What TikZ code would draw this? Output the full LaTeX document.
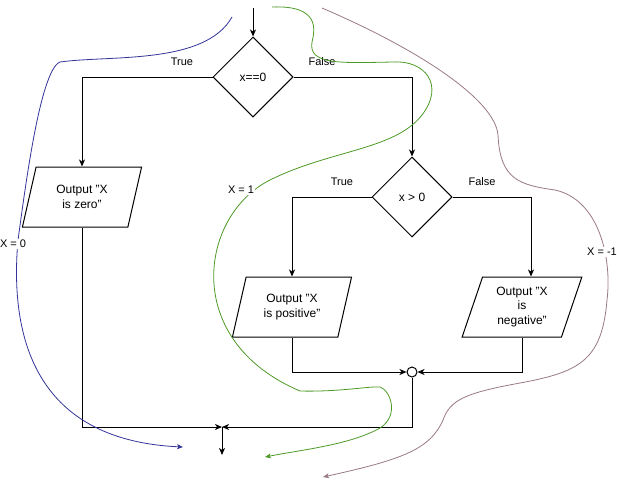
\documentclass[tikz,border=0pt]{standalone}
\usepackage{fontspec}
\setmainfont{Liberation Sans}
\usetikzlibrary{shapes.geometric,arrows.meta}
\definecolor{pathzero}{RGB}{51,51,153}
\definecolor{pathone}{RGB}{77,153,38}
\definecolor{pathneg}{RGB}{153,122,128}

\begin{document}
\begin{tikzpicture}[x=1pt,y=-1pt,line width=1pt,
   every node/.style={font=\fontsize{12}{14.5}\selectfont},
   decision/.style={draw,diamond,aspect=1,minimum width=80pt,minimum height=80pt,inner sep=0pt},
   output/.style={draw,trapezium,trapezium left angle=71.57,trapezium right angle=108.43,
      trapezium stretches,minimum width=120pt,minimum height=60pt,align=center,inner sep=0pt},
   lbl/.style={font=\fontsize{11}{13}\selectfont},
   arr/.style={-{Stealth[length=7pt,width=6pt,inset=2pt]}},
   trace/.style={line width=0.8pt,-{Stealth[length=6pt,width=5pt,inset=1.5pt]}},
   tag/.style={lbl,fill=white,inner sep=1pt}]
   \useasboundingbox (0,0) rectangle (617,480);

   % flowchart
   \node[decision] (d1) at (253,77) {x==0};
   \node[decision] (d2) at (412,197) {x > 0};
   \node[output] (out0) at (82,197) {Output "X\\ is zero"};
   \node[output] (outp) at (292,307) {Output "X\\ is positive"};
   \node[output] (outn) at (522,307) {Output "X\\ is\\ negative"};
   \node[circle,draw,minimum size=10pt,inner sep=0pt] (join) at (412,372) {};
   \coordinate (start) at (253,8);
   \coordinate (merge) at (222,427);
   \coordinate (stop) at (222,455);

   \draw[arr] (start) -- (d1.north);
   \draw[arr] (d1.west) -| (out0.north);
   \draw[arr] (d1.east) -| (d2.north);
   \draw[arr] (d2.west) -| (outp.north);
   \draw[arr] (d2.east) -| ([xshift=9pt]outn.north);
   \draw[arr] (out0.south) |- (merge);
   \draw[arr] (outp.south) |- (join.west);
   \draw[arr] (outn.south) |- (join.east);
   \draw[arr] (join.south) |- (merge);
   \draw[arr] (merge) -- (stop);

   \node[lbl] (t1) at (182,62) {True};
   \node[lbl] (f1) at (322,62) {False};
   \node[lbl] (t2) at (342,182) {True};
   \node[lbl] (f2) at (482,182) {False};

   % execution traces
   \draw[trace,pathzero] (232,17) .. controls (205,65) and (110,55) .. (60,62)
      .. controls (40,70) and (25,190) .. (18,240)
      .. controls (10,330) and (30,440) .. (183,447);
   \draw[trace,pathone] (272,7) .. controls (320,5) and (315,30) .. (312,42)
      .. controls (308,65) and (340,63) .. (393,62)
      .. controls (425,60) and (445,85) .. (422,115)
      .. controls (395,150) and (330,150) .. (270,180)
      .. controls (200,215) and (180,340) .. (300,391)
      .. controls (340,392) and (370,386) .. (380,387)
      .. controls (390,390) and (400,415) .. (380,428)
      .. controls (350,445) and (300,450) .. (265,457);
   \draw[trace,pathneg] (322,8) .. controls (420,50) and (495,100) .. (498,135)
      .. controls (500,180) and (520,185) .. (555,190)
      .. controls (600,200) and (612,260) .. (607,300)
      .. controls (602,360) and (580,372) .. (520,383)
      .. controls (465,393) and (450,400) .. (443,420)
      .. controls (430,450) and (400,460) .. (323,477);

   \node[tag] (x0) at (13,244) {X = 0};
   \node[tag] (x1) at (241,190) {X = 1};
   \node[tag] (xn) at (602,252) {X = -1};
\end{tikzpicture}
\end{document}
